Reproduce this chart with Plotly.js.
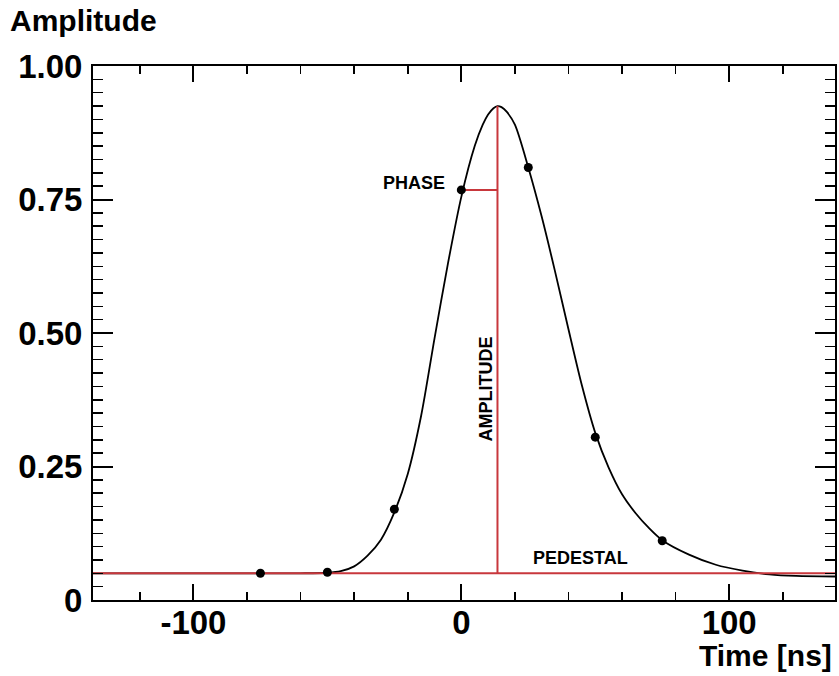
<!DOCTYPE html>
<html>
<head>
<meta charset="utf-8">
<script src="https://cdn.plot.ly/plotly-3.0.1.min.js"></script>
<style>
  html, body { margin: 0; padding: 0; background: #ffffff; }
  #chart { width: 839px; height: 676px; }
</style>
</head>
<body>
<div id="chart"></div>
<script>
// Sampled points (time in ns, amplitude)
const sampleTimes = [-75, -50, -25, 0, 25, 50, 75];
const sampleAmps  = [0.050, 0.052, 0.170, 0.768, 0.810, 0.305, 0.111];

// Fitted pulse shape
const fitTimes = [-137.5, -100, -60, -50, -45, -40, -35, -30, -25, -20, -15, -10, -5, 0, 5, 8, 10, 12, 13.5, 15, 17, 20, 25, 30, 35, 40, 45, 50, 55, 60, 65, 70, 75, 85, 95, 105, 115, 125, 139.5];
const fitAmps  = [0.050, 0.050, 0.050, 0.051, 0.054, 0.063, 0.083, 0.113, 0.164, 0.236, 0.345, 0.490, 0.630, 0.755, 0.850, 0.890, 0.909, 0.921, 0.925, 0.923, 0.914, 0.890, 0.810, 0.718, 0.615, 0.507, 0.402, 0.313, 0.248, 0.198, 0.163, 0.135, 0.112, 0.085, 0.066, 0.055, 0.048, 0.045, 0.044];

// Reconstructed parameters
const pedestal = 0.050;
const peakTime = 13.5;
const peakAmp = 0.925;
const phaseTime = 0;
const phaseAmp = 0.768;

// Axis settings
const xRange = [-137.5, 139.5];
const yRange = [0, 1];
const yTickVals = [0, 0.25, 0.5, 0.75, 1.0];
const yTickText = ['0', '0.25', '0.50', '0.75', '1.00'];
const xTickVals = [-100, 0, 100];
const xTickText = ['-100', '0', '100'];

const red = '#c8373c';
const FONT = 'Liberation Sans, Arial, Helvetica, sans-serif';

const traces = [
  { x: fitTimes, y: fitAmps, mode: 'lines', type: 'scatter',
    line: { color: '#000000', width: 1.8, shape: 'spline', smoothing: 0.8 }, hoverinfo: 'skip' },
  { x: [xRange[0], xRange[1]], y: [pedestal, pedestal], mode: 'lines', type: 'scatter',
    line: { color: red, width: 2 } },
  { x: [peakTime, peakTime], y: [pedestal, peakAmp], mode: 'lines', type: 'scatter',
    line: { color: red, width: 2 } },
  { x: [phaseTime, peakTime], y: [phaseAmp, phaseAmp], mode: 'lines', type: 'scatter',
    line: { color: red, width: 2 } },
  { x: sampleTimes, y: sampleAmps, mode: 'markers', type: 'scatter',
    marker: { color: '#000000', size: 9 } }
];

const axisCommon = {
  showgrid: false, zeroline: false, showline: true, linecolor: '#000', linewidth: 2,
  mirror: 'allticks', ticks: 'inside', tickcolor: '#000', tickwidth: 2,
  tickfont: { family: FONT, size: 33, color: '#000', weight: 700 }
};

const layout = {
  width: 839, height: 676,
  margin: { l: 93, r: 4, t: 66, b: 76 },
  paper_bgcolor: '#ffffff', plot_bgcolor: '#ffffff',
  showlegend: false,
  xaxis: Object.assign({}, axisCommon, {
    range: xRange, tickmode: 'array', tickvals: xTickVals, ticktext: xTickText, ticklen: 16,
    ticklabelstandoff: -8,
    minor: { dtick: 20, tick0: 0, ticklen: 8, tickwidth: 1.5, tickcolor: '#000', ticks: 'inside' }
  }),
  yaxis: Object.assign({}, axisCommon, {
    range: yRange, tickmode: 'array', tickvals: yTickVals, ticktext: yTickText, ticklen: 20,
    ticklabelstandoff: 2,
    minor: { dtick: 0.025, tick0: 0, ticklen: 10, tickwidth: 1.5, tickcolor: '#000', ticks: 'inside' }
  }),
  annotations: [
    { text: 'Amplitude', xref: 'paper', yref: 'paper', x: -0.114, y: 1.085, xanchor: 'left', yanchor: 'middle',
      showarrow: false, font: { family: FONT, size: 30, color: '#000', weight: 700 } },
    { text: 'Time [ns]', xref: 'paper', yref: 'paper', x: 0.998, y: -0.103, xanchor: 'right', yanchor: 'middle',
      showarrow: false, font: { family: FONT, size: 30, color: '#000', weight: 700 } },
    { text: 'PHASE', x: -17.5, y: 0.781, xref: 'x', yref: 'y', showarrow: false,
      font: { family: FONT, size: 18, color: '#000', weight: 700 } },
    { text: 'PEDESTAL', x: 44.6, y: 0.079, xref: 'x', yref: 'y', showarrow: false,
      font: { family: FONT, size: 18, color: '#000', weight: 700 } },
    { text: 'AMPLITUDE', x: 9.4, y: 0.395, xref: 'x', yref: 'y', showarrow: false, textangle: -90,
      font: { family: FONT, size: 18, color: '#000', weight: 700 } }
  ]
};

Plotly.newPlot('chart', traces, layout, { displayModeBar: false, staticPlot: true });
</script>
</body>
</html>
